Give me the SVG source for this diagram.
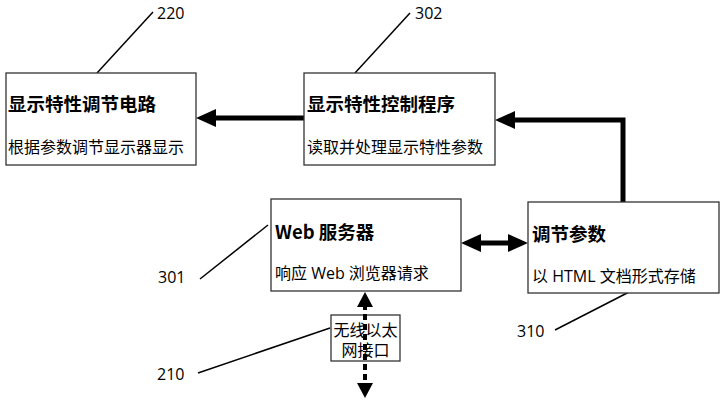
<svg xmlns="http://www.w3.org/2000/svg" width="725" height="400" viewBox="0 0 725 400">
<style>
.box{fill:#fff;stroke:#333;stroke-width:1.3}
.t{font-family:"Noto Sans CJK SC","Noto Sans",sans-serif;font-size:18.5px;font-weight:bold;fill:#000}
.s{font-family:"Open Sans","Noto Sans CJK SC",sans-serif;font-size:16px;fill:#000}
.n{font-family:"Open Sans","Noto Sans",sans-serif;font-size:16px;fill:#000}
.lead{stroke:#000;stroke-width:1.5;fill:none}
.thick{stroke:#000;stroke-width:5;fill:none}
.dash{stroke:#000;stroke-width:4;fill:none;stroke-dasharray:6 4}
</style>
<defs>
<marker id="ah" viewBox="0 0 20 18" refX="4" refY="9" markerWidth="20" markerHeight="18" markerUnits="userSpaceOnUse" orient="auto-start-reverse">
<path d="M0,0 L20,9 L0,18 z" fill="#000"/>
</marker>
<marker id="ahs" viewBox="0 0 15 16" refX="3" refY="8" markerWidth="15" markerHeight="16" markerUnits="userSpaceOnUse" orient="auto-start-reverse">
<path d="M0,0 L15,8 L0,16 z" fill="#000"/>
</marker>
</defs>
<g id="connectors">
<line class="thick" x1="304" y1="118" x2="212" y2="118" marker-end="url(#ah)"/>
<polyline class="thick" points="623,202 623,120 511,120" marker-end="url(#ah)"/>
<line class="thick" x1="477" y1="243" x2="512" y2="243" marker-start="url(#ah)" marker-end="url(#ah)"/>
<line class="lead" x1="97" y1="73" x2="153" y2="12"/>
<line class="lead" x1="355" y1="73" x2="410" y2="13"/>
<line class="lead" x1="268" y1="225" x2="200" y2="279"/>
<line class="lead" x1="633" y1="290" x2="555" y2="330"/>
</g>
<g id="n220">
<rect class="box" x="6" y="73" width="190" height="92"/>
<text class="t" x="8" y="111">显示特性调节电路</text>
<text class="s" x="8" y="153">根据参数调节显示器显示</text>
<text class="n" x="157" y="19">220</text>
</g>
<g id="n302">
<rect class="box" x="304" y="73" width="191" height="92"/>
<text class="t" x="307" y="111">显示特性控制程序</text>
<text class="s" x="307" y="153">读取并处理显示特性参数</text>
<text class="n" x="415" y="19">302</text>
</g>
<g id="n301">
<rect class="box" x="271" y="199" width="190" height="92"/>
<text class="t" x="275" y="239">Web 服务器</text>
<text class="s" x="275" y="279">响应 Web 浏览器请求</text>
<text class="n" x="158" y="283">301</text>
</g>
<g id="n310">
<rect class="box" x="528" y="202" width="191" height="91"/>
<text class="t" x="532" y="241">调节参数</text>
<text class="s" x="532" y="282">以 HTML 文档形式存储</text>
<text class="n" x="517" y="337">310</text>
</g>
<g id="n210">
<rect class="box" x="331" y="315" width="69" height="46" stroke="#000" stroke-width="1.5"/>
<text class="s" x="365.5" y="336" text-anchor="middle">无线以太</text>
<text class="s" x="365.5" y="356" text-anchor="middle">网接口</text>
<line class="lead" x1="330" y1="328" x2="198" y2="373"/>
<text class="n" x="157" y="380">210</text>
</g>
<g id="wireless-link">
<line class="dash" x1="365" y1="304" x2="365" y2="386" marker-start="url(#ahs)" marker-end="url(#ahs)"/>
</g>
</svg>
